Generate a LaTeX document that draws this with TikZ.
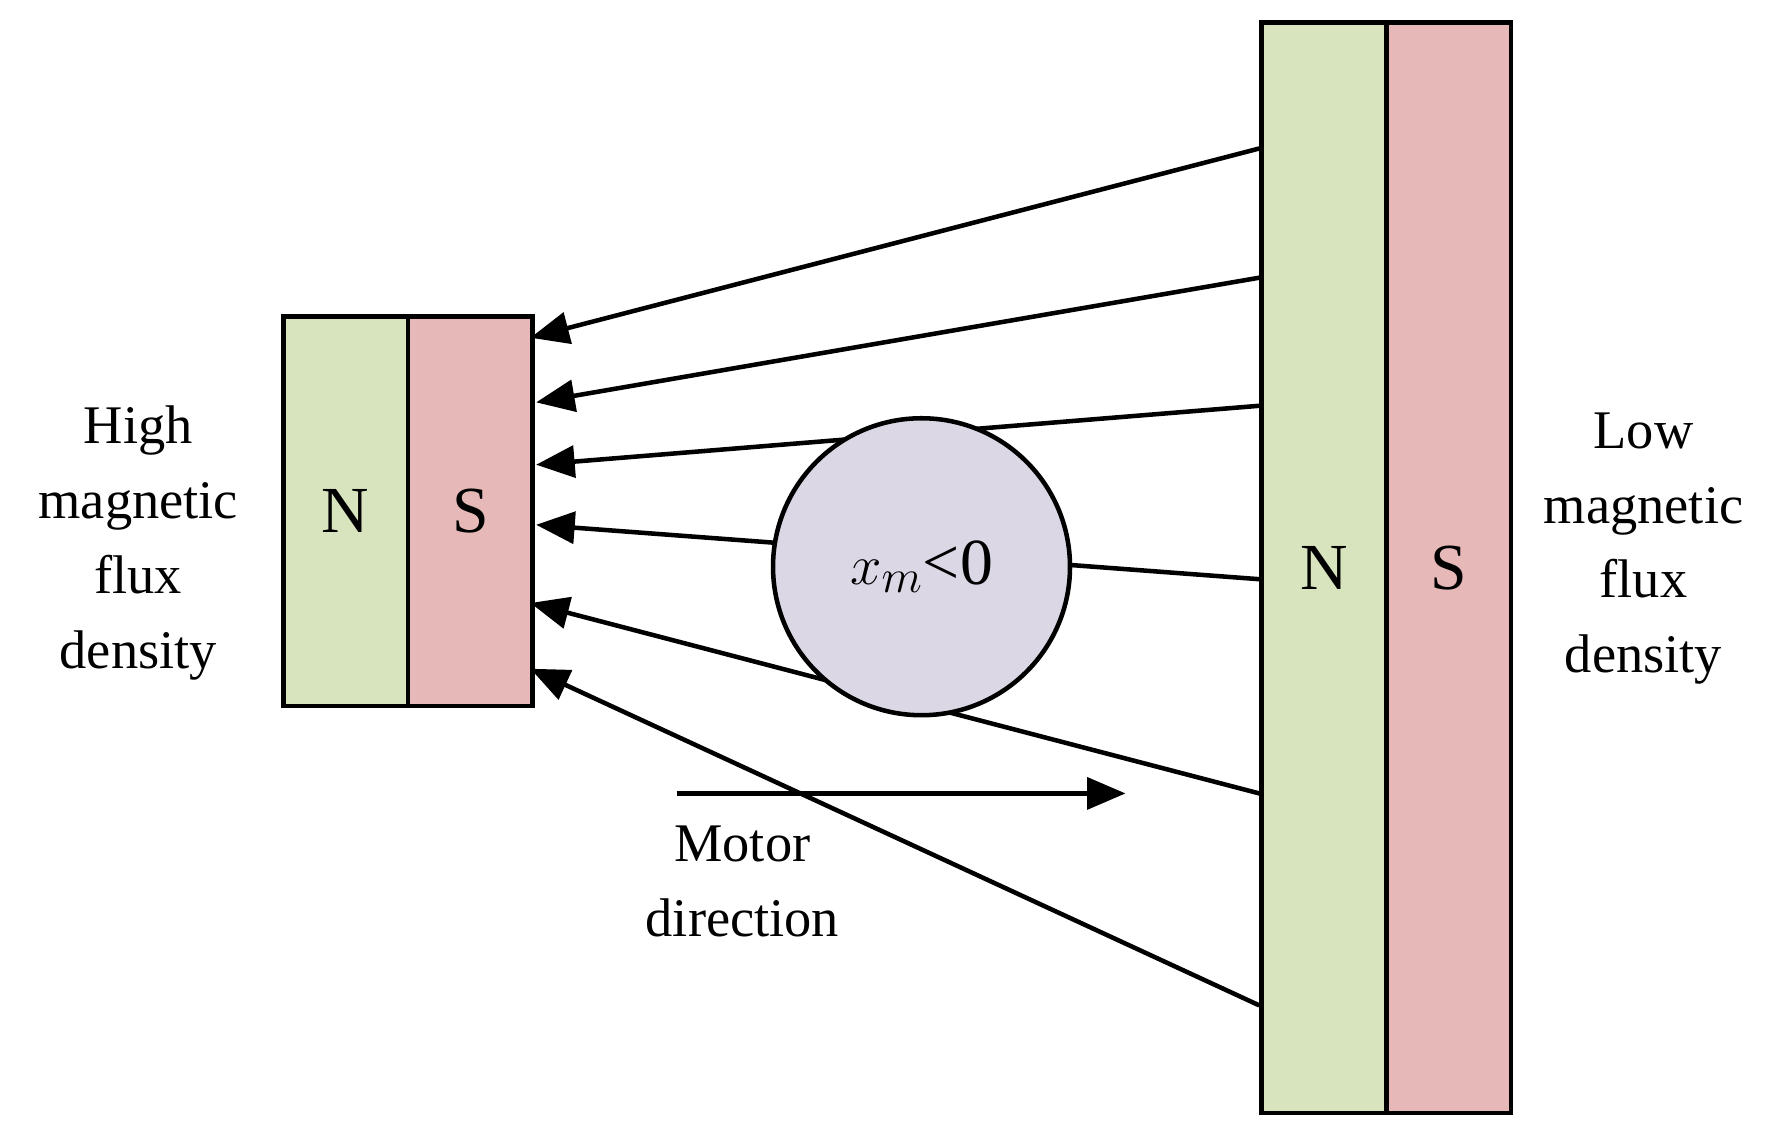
\documentclass[tikz,border=0pt]{standalone}
\usepackage{fontspec}
\setmainfont{Liberation Serif}
\usetikzlibrary{arrows.meta}
\begin{document}
\begin{tikzpicture}[x=0.5pt,y=-0.5pt,
  mag/.style={draw=black,line width=2pt},
  flux/.style={line width=2pt,-{Triangle[length=17pt,width=14pt]}},
  lbl/.style={font=\fontsize{24}{33}\selectfont,align=center},
  pole/.style={font=\fontsize{29}{33}\selectfont}]
\useasboundingbox (0,0) rectangle (1566,1000);
\definecolor{gr}{HTML}{D7E4BD}
\definecolor{rd}{HTML}{E6B9B8}
\definecolor{cl}{HTML}{DCD7E5}
% magnets
\node[mag,fill=gr,minimum width=55pt,minimum height=172pt,inner sep=0pt,anchor=north west] (ln) at (248,277) {};
\node[mag,fill=rd,minimum width=55pt,minimum height=172pt,inner sep=0pt,anchor=north west] (ls) at (358,277) {};
\node[pole] at (ln.center) {N};
\node[pole] at (ls.center) {S};
\node[mag,fill=gr,minimum width=55pt,minimum height=481pt,inner sep=0pt,anchor=north west] (rn) at (1111,18) {};
\node[mag,fill=rd,minimum width=55pt,minimum height=481pt,inner sep=0pt,anchor=north west] (rs) at (1221,18) {};
\node[pole] at (rn.center) {N};
\node[pole] at (rs.center) {S};
% flux lines
\coordinate (r1) at (1111,131); \coordinate (l1) at (468,298);
\coordinate (r2) at (1111,245); \coordinate (l2) at (473,355);
\coordinate (r3) at (1111,358); \coordinate (l3) at (473,410);
\coordinate (r4) at (1111,511); \coordinate (l4) at (473,463);
\coordinate (r5) at (1111,700); \coordinate (l5) at (468,532);
\coordinate (r6) at (1111,887); \coordinate (l6) at (468,590);
\foreach \i in {1,...,6} \draw[flux] (r\i) -- (l\i);
% particle
\node[circle,draw=black,line width=2pt,fill=cl,minimum size=131pt,inner sep=0pt,font=\fontsize{29}{33}\selectfont] (c) at (813,500) {$x_m$<0};
% motor direction
\coordinate (m1) at (597,700); \coordinate (m2) at (993,700);
\draw[flux] (m1) -- (m2);
\node[lbl] (md) at (655,778) {Motor\\direction};
\node[lbl] (hl) at (122,479) {High\\magnetic\\flux\\density};
\node[lbl] (ll) at (1450,484) {Low\\magnetic\\flux\\density};
\end{tikzpicture}
\end{document}
